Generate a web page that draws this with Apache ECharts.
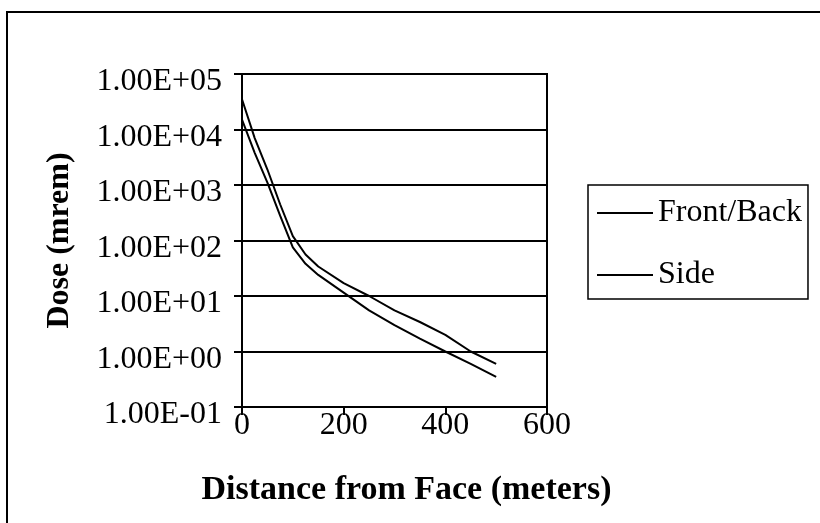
<!DOCTYPE html>
<html>
<head>
<meta charset="utf-8">
<script src="https://cdn.jsdelivr.net/npm/echarts@6/dist/echarts.min.js"></script>
<style>
html, body { margin: 0; padding: 0; background: #fff; }
#dose-chart { width: 820px; height: 523px; }
</style>
</head>
<body>
<div id="dose-chart"></div>
<script>
// distance from face (m) and dose (mrem)
var distances = [0, 25, 50, 75, 100, 125, 150, 200, 250, 300, 350, 400, 450, 500];
var frontBack = [35000, 7000, 1900, 450, 120, 56, 34, 17, 10, 5.5, 3.4, 2.0, 1.0, 0.6];
var side = [15000, 3800, 1100, 280, 75, 38, 24, 11.5, 5.5, 3.0, 1.7, 1.0, 0.6, 0.35];
var xTicks = [0, 200, 400, 600];

var serif = "'Liberation Serif', 'Times New Roman', serif";

function pairs(ys){
	var out = [];
	for (var i = 0; i < distances.length; i++) {
		out.push([distances[i], ys[i]]);
	}
	return out;
}

function sci(v){ // 1.00E+05 style, like Excel
	var e = Math.round(Math.log(v) / Math.LN10);
	var m = (v / Math.pow(10, e)).toFixed(2);
	var s = e < 0 ? '-' : '+';
	var a = Math.abs(e);
	return m + 'E' + s + (a < 10 ? '0' + a : a);
}

var chart = echarts.init(document.getElementById('dose-chart'));
var option = {
	backgroundColor: '#fff',
	animation: false,
	graphic: [{
		type: 'rect',
		silent: true,
		shape: { x: 7, y: 12, width: 840, height: 540 },
		style: { fill: 'none', stroke: '#000', lineWidth: 2 }
	}],
	legend: {
		orient: 'vertical',
		left: 588,
		top: 185,
		padding: [12, 6, 8, 9],
		itemGap: 30,
		itemWidth: 56,
		itemHeight: 2,
		icon: 'rect',
		borderColor: '#000',
		borderWidth: 1.5,
		textStyle: { fontFamily: serif, fontSize: 32, color: '#000', lineHeight: 30 },
		data: ['Front/Back', 'Side']
	},
	grid: {
		left: 242, top: 74, right: 273, bottom: 116,
		show: true, borderColor: '#000', borderWidth: 2,
		containLabel: false
	},
	xAxis: {
		type: 'value',
		min: xTicks[0],
		max: xTicks[xTicks.length - 1],
		interval: 200,
		name: 'Distance from Face (meters)',
		nameLocation: 'middle',
		nameGap: 66,
		nameTextStyle: {
			fontFamily: serif, fontSize: 34, fontWeight: 'bold', color: '#000',
			padding: [0, 0, 0, 24]
		},
		axisLine: { lineStyle: { color: '#000', width: 2 } },
		axisTick: { show: true, length: 8, lineStyle: { color: '#000', width: 2 } },
		axisLabel: { fontFamily: serif, fontSize: 32, color: '#000', margin: 3 },
		splitLine: { show: false }
	},
	yAxis: {
		type: 'log',
		logBase: 10,
		min: 0.1,
		max: 100000,
		splitNumber: 6,
		name: 'Dose (mrem)',
		nameLocation: 'middle',
		nameGap: 166,
		nameTextStyle: { fontFamily: serif, fontSize: 32, fontWeight: 'bold', color: '#000' },
		axisLine: { lineStyle: { color: '#000', width: 2 } },
		axisTick: { show: true, length: 8, lineStyle: { color: '#000', width: 2 } },
		axisLabel: {
			fontFamily: serif, fontSize: 32, color: '#000', margin: 20,
			verticalAlign: 'top', lineHeight: 16,
			formatter: function(v){ return sci(v); }
		},
		splitLine: { show: true, lineStyle: { color: '#000', width: 2 } },
		minorTick: { show: false }
	},
	series: [
		{
			name: 'Front/Back',
			type: 'line',
			showSymbol: false,
			data: pairs(frontBack),
			itemStyle: { color: '#000' },
			lineStyle: { color: '#000', width: 2 }
		},
		{
			name: 'Side',
			type: 'line',
			showSymbol: false,
			data: pairs(side),
			itemStyle: { color: '#000' },
			lineStyle: { color: '#000', width: 2 }
		}
	]
};
chart.setOption(option);
</script>
</body>
</html>
